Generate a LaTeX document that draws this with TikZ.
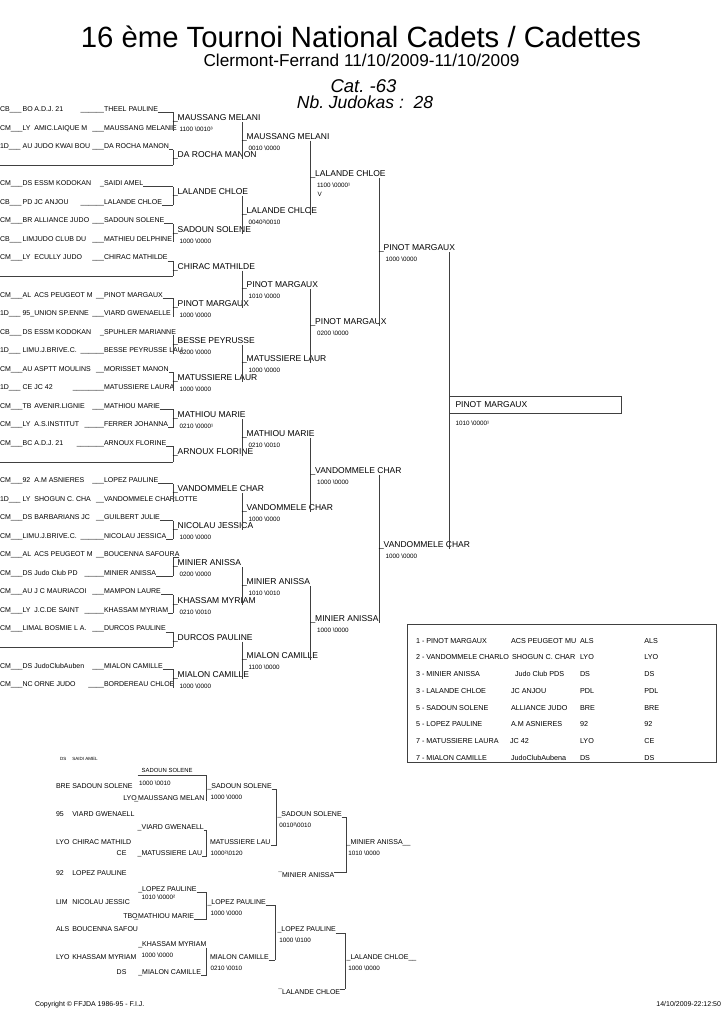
\documentclass[tikz,border=0pt]{standalone}
\usepackage{fontspec}
\setmainfont{Liberation Sans}
\frenchspacing
\newcommand\jslot[6]{%
  \pgfmathsetmacro\yy{111.5+(#1-1)*18.55}%
  \node[rowtxt] (p#1) at (0,\yy) {#2\_\_\_};
  \node[rowtxt] (g#1) at (22.6,\yy) {#3};
  \node[rowtxt] (c#1) at (34.4,\yy) {#4};
  \node[rowtxt,anchor=base east] (u#1) at (104,\yy) {#5};
  \node[rowtxt] (n#1) at (104,\yy) {#6};
  \coordinate (e#1) at (173,{\yy+1});
}
\newcommand\jbye[1]{%
  \pgfmathsetmacro\yy{111.5+(#1-1)*18.55-2}%
  \coordinate (bl#1) at (0,\yy);
  \coordinate (e#1) at (173,\yy);
  \draw[ln] (bl#1) -- (e#1);
}
\begin{document}
\begin{tikzpicture}[x=1pt,y=-1pt,
  every node/.style={inner sep=0pt,outer sep=0pt,anchor=base west},
  rowtxt/.style={font=\fontsize{7}{8}\selectfont},
  reptxt/.style={font=\fontsize{7}{8}\selectfont},
  tabtxt/.style={font=\fontsize{7.2}{8}\selectfont},
  tinytxt/.style={font=\fontsize{4.5}{5}\selectfont},
  labtxt/.style={font=\fontsize{5.9}{7}\selectfont},
  wtxt/.style={font=\fontsize{8.5}{10}\selectfont},
  sctxt/.style={font=\fontsize{6.3}{7}\selectfont},
  ln/.style={draw=black!75,line width=0.75pt},
  boxst/.style={draw=black!75,line width=0.9pt},
]
\useasboundingbox (0,0) rectangle (724,1024);

% ---------- titles
\node[anchor=base,font=\fontsize{29.3}{32}\selectfont] (title) at (361,47.5) {16 ème Tournoi National Cadets / Cadettes};
\node[anchor=base,font=\fontsize{17.2}{20}\selectfont] (sub) at (361.5,67) {Clermont-Ferrand 11/10/2009-11/10/2009};
\node[anchor=base,font=\fontsize{18.5}{20}\selectfont\itshape] (cat) at (363.5,92.8) {Cat. -63};
\node[anchor=base,font=\fontsize{17.5}{20}\selectfont\itshape] (nb) at (365,108.6) {Nb. Judokas :\ \ 28};

% ---------- first round entries
\jslot{1}{CB}{BO}{A.D.J. 21}{\_\_\_\_\_\_}{THEEL PAULINE}
\jslot{2}{CM}{LY}{AMIC.LAIQUE M}{\_\_\_}{MAUSSANG MELANIE}
\jslot{3}{1D}{AU}{JUDO KWAI BOU}{\_\_\_}{DA ROCHA MANON}
\jbye{4}
\jslot{5}{CM}{DS}{ESSM KODOKAN}{\_}{SAIDI AMEL}
\jslot{6}{CB}{PD}{JC ANJOU}{\_\_\_\_\_\_}{LALANDE CHLOE}
\jslot{7}{CM}{BR}{ALLIANCE JUDO}{\_\_\_}{SADOUN SOLENE}
\jslot{8}{CB}{LIM}{JUDO CLUB DU}{\_\_\_}{MATHIEU DELPHINE}
\jslot{9}{CM}{LY}{ECULLY JUDO}{\_\_\_}{CHIRAC MATHILDE}
\jbye{10}
\jslot{11}{CM}{AL}{ACS PEUGEOT M}{\_\_}{PINOT MARGAUX}
\jslot{12}{1D}{95\_}{UNION SP.ENNE}{\_\_\_}{VIARD GWENAELLE}
\jslot{13}{CB}{DS}{ESSM KODOKAN}{\_}{SPUHLER MARIANNE}
\jslot{14}{1D}{LIM}{U.J.BRIVE.C.}{\_\_\_\_\_\_}{BESSE PEYRUSSE LAU}
\jslot{15}{CM}{AU}{ASPTT MOULINS}{\_\_}{MORISSET MANON}
\jslot{16}{1D}{CE}{JC 42}{\_\_\_\_\_\_\_\_}{MATUSSIERE LAURA}
\jslot{17}{CM}{TB}{AVENIR.LIGNIE}{\_\_\_}{MATHIOU MARIE}
\jslot{18}{CM}{LY}{A.S.INSTITUT}{\_\_\_\_\_}{FERRER JOHANNA}
\jslot{19}{CM}{BC}{A.D.J. 21}{\_\_\_\_\_\_\_}{ARNOUX FLORINE}
\jbye{20}
\jslot{21}{CM}{92}{A.M ASNIERES}{\_\_\_}{LOPEZ PAULINE}
\jslot{22}{1D}{LY}{SHOGUN C. CHA}{\_\_}{VANDOMMELE CHARLOTTE}
\jslot{23}{CM}{DS}{BARBARIANS JC}{\_\_}{GUILBERT JULIE}
\jslot{24}{CM}{LIM}{U.J.BRIVE.C.}{\_\_\_\_\_\_}{NICOLAU JESSICA}
\jslot{25}{CM}{AL}{ACS PEUGEOT M}{\_\_}{BOUCENNA SAFOURA}
\jslot{26}{CM}{DS}{Judo Club PD}{\_\_\_\_\_}{MINIER ANISSA}
\jslot{27}{CM}{AU}{J C MAURIACOI}{\_\_\_}{MAMPON LAURE}
\jslot{28}{CM}{LY}{J.C.DE SAINT}{\_\_\_\_\_}{KHASSAM MYRIAM}
\jslot{29}{CM}{LIM}{AL BOSMIE L A.}{\_\_\_}{DURCOS PAULINE}
\jbye{30}
\jslot{31}{CM}{DS}{JudoClubAuben}{\_\_\_}{MIALON CAMILLE}
\jslot{32}{CM}{NC}{ORNE JUDO}{\_\_\_\_}{BORDEREAU CHLOE}

\foreach \s in {1,3,5,6,7,9,11,15,17,18,19,21,23,24,25,26,27,28,29,31}
  \draw[ln] ([yshift=-1pt]n\s.base east) -- (e\s);
\foreach \m in {1,...,16} {
  \pgfmathtruncatemacro\pa{2*\m-1}\pgfmathtruncatemacro\pb{2*\m}
  \draw[ln] (e\pa) -- (e\pb);
}

% ---------- round 1 winners
\foreach \m/\nm/\scr in {1/MAUSSANG MELANI/1100 \textbackslash 0010³, 2/DA ROCHA MANON/,
  3/LALANDE CHLOE/, 4/SADOUN SOLENE/1000 \textbackslash 0000, 5/CHIRAC MATHILDE/,
  6/PINOT MARGAUX/1000 \textbackslash 0000, 7/BESSE PEYRUSSE/0200 \textbackslash 0000,
  8/MATUSSIERE LAUR/1000 \textbackslash 0000, 9/MATHIOU MARIE/0210 \textbackslash 0000¹,
  10/ARNOUX FLORINE/, 11/VANDOMMELE CHAR/, 12/NICOLAU JESSICA/1000 \textbackslash 0000,
  13/MINIER ANISSA/0200 \textbackslash 0000, 14/KHASSAM MYRIAM/0210 \textbackslash 0010,
  15/DURCOS PAULINE/, 16/MIALON CAMILLE/1000 \textbackslash 0000} {
  \pgfmathsetmacro\yy{120.775+(\m-1)*37.1}
  \node[wtxt] (wa\m) at (173,\yy) {\_\nm};
  \node[sctxt] (sa\m) at (179.5,{\yy+11}) {\scr};
  \coordinate (f\m) at (242,{\yy+1.5});
}
\foreach \m in {1,...,8} {
  \pgfmathtruncatemacro\pa{2*\m-1}\pgfmathtruncatemacro\pb{2*\m}
  \draw[ln] (f\pa) -- (f\pb);
}

% ---------- round 2 winners
\foreach \m/\nm/\scr in {1/MAUSSANG MELANI/0010 \textbackslash 0000, 2/LALANDE CHLOE/0040²\textbackslash 0010,
  3/PINOT MARGAUX/1010 \textbackslash 0000, 4/MATUSSIERE LAUR/1000 \textbackslash 0000,
  5/MATHIOU MARIE/0210 \textbackslash 0010, 6/VANDOMMELE CHAR/1000 \textbackslash 0000,
  7/MINIER ANISSA/1010 \textbackslash 0010, 8/MIALON CAMILLE/1100 \textbackslash 0000} {
  \pgfmathsetmacro\yy{139.325+(\m-1)*74.2}
  \node[wtxt] (wb\m) at (242,\yy) {\_\nm};
  \node[sctxt] (sb\m) at (248.5,{\yy+11}) {\scr};
  \coordinate (g\m) at (310.5,{\yy+1.5});
}
\foreach \m in {1,...,4} {
  \pgfmathtruncatemacro\pa{2*\m-1}\pgfmathtruncatemacro\pb{2*\m}
  \draw[ln] (g\pa) -- (g\pb);
}

% ---------- round 3 winners
\foreach \m/\nm/\scr in {1/LALANDE CHLOE/1100 \textbackslash 0000¹, 2/PINOT MARGAUX/0200 \textbackslash 0000,
  3/VANDOMMELE CHAR/1000 \textbackslash 0000, 4/MINIER ANISSA/1000 \textbackslash 0000} {
  \pgfmathsetmacro\yy{176.425+(\m-1)*148.4}
  \node[wtxt] (wc\m) at (310.5,\yy) {\_\nm};
  \node[sctxt] (sc\m) at (317,{\yy+11}) {\scr};
  \coordinate (hh\m) at (379,{\yy+1.5});
}
\node[sctxt] (vmark) at (317.5,196.3) {V};
\foreach \m in {1,2} {
  \pgfmathtruncatemacro\pa{2*\m-1}\pgfmathtruncatemacro\pb{2*\m}
  \draw[ln] (hh\pa) -- (hh\pb);
}

% ---------- round 4 (semi-final) winners
\foreach \m/\nm/\scr in {1/PINOT MARGAUX/1000 \textbackslash 0000, 2/VANDOMMELE CHAR/1000 \textbackslash 0000} {
  \pgfmathsetmacro\yy{250.625+(\m-1)*296.8}
  \node[wtxt] (wd\m) at (379,\yy) {\_\nm};
  \node[sctxt] (sd\m) at (385.5,{\yy+11}) {\scr};
  \coordinate (fin\m) at (449,{\yy+1.5});
}
\draw[ln] (fin1) -- (fin2);

% ---------- final
\node[boxst,anchor=north west,minimum height=17.5pt,text width=159.5pt,inner xsep=6.5pt,
  align=left,font=\fontsize{8.5}{10}\selectfont] (final) at (449,396) {PINOT MARGAUX};
\node[sctxt] (fsc) at (455.7,425) {1010 \textbackslash 0000¹};

% ---------- results table
\node[boxst,anchor=north west,minimum width=309.4pt,minimum height=138.3pt] (tab) at (407.3,624) {};
\foreach \m/\pl/\cx/\club/\rg/\lg in {
  1/1 - PINOT MARGAUX/511/ACS PEUGEOT MU/ALS/ALS,
  2/2 - VANDOMMELE CHARLO/512/SHOGUN C. CHAR/LYO/LYO,
  3/3 - MINIER ANISSA/515/Judo Club PDS/DS/DS,
  4/3 - LALANDE CHLOE/511/JC ANJOU/PDL/PDL,
  5/5 - SADOUN SOLENE/511/ALLIANCE JUDO/BRE/BRE,
  6/5 - LOPEZ PAULINE/511/A.M ASNIERES/92/92,
  7/7 - MATUSSIERE LAURA/510/JC 42/LYO/CE,
  8/7 - MIALON CAMILLE/511/JudoClubAubena/DS/DS} {
  \pgfmathsetmacro\yy{643+(\m-1)*16.75}
  \node[tabtxt] (tp\m) at (416,\yy) {\pl};
  \node[tabtxt] (tc\m) at (\cx,\yy) {\club};
  \node[tabtxt] (tr\m) at (580,\yy) {\rg};
  \node[tabtxt] (tl\m) at (644.3,\yy) {\lg};
}

% ---------- repechage: left column
\node[tinytxt] (rds) at (60,760) {DS};
\node[tinytxt] (rsaidi) at (72.3,760) {SAIDI AMEL};
\foreach \m/\yb/\rg/\nm in {1/788.6/BRE/SADOUN SOLENE, 2/816.6/95/VIARD GWENAELL,
  3/844.3/LYO/CHIRAC MATHILD, 4/875.3/92/LOPEZ PAULINE, 5/904.3/LIM/NICOLAU JESSIC,
  6/931.9/ALS/BOUCENNA SAFOU, 7/959.3/LYO/KHASSAM MYRIAM} {
  \node[reptxt] (lr\m) at (56,\yb) {\rg};
  \node[reptxt] (ln\m) at (72.3,\yb) {\nm};
}

% ---------- repechage: second column
\node[labtxt] (cl0) at (141.7,772) {SADOUN SOLENE};
\coordinate (RA0) at (137.7,775);
\coordinate (RA1) at (206.7,775);
\coordinate (RA2) at (206.7,801);
\node[sctxt] (cs1) at (139,785.5) {1000 \textbackslash 0010};
\node[reptxt] (cr1) at (123.3,800) {LYO};
\node[reptxt] (cn1) at (134.3,800) {\_MAUSSANG MELAN};
\draw[ln] (RA0) -- (RA1) -- (RA2);

\node[reptxt] (cn2) at (137.7,829.3) {\_VIARD GWENAELL};
\node[reptxt] (cr3) at (116.7,855.3) {CE};
\node[reptxt] (cn3) at (137.7,855.3) {\_MATUSSIERE LAU};
\coordinate (RB1) at (206.7,830.3);
\coordinate (RB2) at (206.7,856.3);
\draw[ln] ([yshift=-1pt]cn2.base east) -- (RB1) -- (RB2);
\draw[ln] ([yshift=-1pt]cn3.base east) -- (RB2);

\node[reptxt] (cn4) at (138.3,891) {\_LOPEZ PAULINE};
\node[sctxt] (cs4) at (141.7,899) {1010 \textbackslash 0000²};
\node[reptxt] (cr5) at (123.3,918.3) {TBO};
\node[reptxt] (cn5) at (134.3,918.3) {\_MATHIOU MARIE};
\coordinate (RC1) at (206.7,892);
\coordinate (RC2) at (206.7,919.3);
\draw[ln] ([yshift=-1pt]cn4.base east) -- (RC1) -- (RC2);
\draw[ln] ([yshift=-1pt]cn5.base east) -- (RC2);

\node[reptxt] (cn6) at (138.3,946.6) {\_KHASSAM MYRIAM};
\node[sctxt] (cs6) at (141.7,957.2) {1000 \textbackslash 0000};
\node[reptxt] (cr7) at (116.7,974.3) {DS};
\node[reptxt] (cn7) at (138.3,974.3) {\_MIALON CAMILLE};
\coordinate (RD1) at (206.7,947.6);
\coordinate (RD2) at (206.7,975.3);
\draw[ln] (RD1) -- (RD2);
\draw[ln] ([yshift=-1pt]cn7.base east) -- (RD2);

% ---------- repechage: third column
\node[reptxt] (da1) at (207.5,788.6) {\_SADOUN SOLENE};
\node[sctxt] (ds1) at (210.7,799.5) {1000 \textbackslash 0000};
\node[reptxt] (da2) at (210,844.3) {MATUSSIERE LAU};
\node[sctxt] (ds2) at (210.7,855) {1000²\textbackslash 0120};
\coordinate (RE1) at (276.7,789.6);
\coordinate (RE2) at (276.7,845.3);
\draw[ln] ([yshift=-1pt]da1.base east) -- (RE1) -- (RE2);
\draw[ln] ([yshift=-1pt]da2.base east) -- (RE2);

\node[reptxt] (da3) at (207.5,904.3) {\_LOPEZ PAULINE};
\node[sctxt] (ds3) at (210.7,915) {1000 \textbackslash 0000};
\node[reptxt] (da4) at (210,959.3) {MIALON CAMILLE};
\node[sctxt] (ds4) at (210.7,970.6) {0210 \textbackslash 0010};
\coordinate (RE3) at (275,905.3);
\coordinate (RE4) at (275,960.3);
\draw[ln] ([yshift=-1pt]da3.base east) -- (RE3) -- (RE4);
\draw[ln] ([yshift=-1pt]da4.base east) -- (RE4);

% ---------- repechage: fourth column
\node[reptxt] (ea1) at (277.5,816.6) {\_SADOUN SOLENE};
\node[sctxt] (es1) at (279.3,827.2) {0010²\textbackslash 0010};
\node[reptxt] (ea2) at (278.3,877.6) {¯MINIER ANISSA};
\coordinate (RF1) at (346.7,817.6);
\coordinate (RF2) at (346.7,872.3);
\draw[ln] ([yshift=-1pt]ea1.base east) -- (RF1) -- (RF2);
\draw[ln] ([yshift=5.3pt]ea2.base east) -- (RF2);

\node[reptxt] (ea3) at (277.5,931.9) {\_LOPEZ PAULINE};
\node[sctxt] (es3) at (279.3,942.9) {1000 \textbackslash 0100};
\node[reptxt] (ea4) at (278.3,994.3) {¯LALANDE CHLOE};
\coordinate (RF3) at (345,932.9);
\coordinate (RF4) at (345,989);
\draw[ln] ([yshift=-1pt]ea3.base east) -- (RF3) -- (RF4);
\draw[ln] ([yshift=5.3pt]ea4.base east) -- (RF4);

% ---------- repechage: fifth column
\node[reptxt] (fa1) at (346.7,844.3) {\_MINIER ANISSA\_\_};
\node[sctxt] (fs1) at (348.3,855) {1010 \textbackslash 0000};
\node[reptxt] (fa2) at (346.7,959.3) {\_LALANDE CHLOE\_\_};
\node[sctxt] (fs2) at (348.3,970.6) {1000 \textbackslash 0000};

% ---------- footer
\node[rowtxt] (copy) at (35,1006.5) {Copyright © FFJDA 1986-95 - F.I.J.};
\node[rowtxt,anchor=base east] (date) at (721,1006.5) {14/10/2009-22:12:50};
\end{tikzpicture}
\end{document}
